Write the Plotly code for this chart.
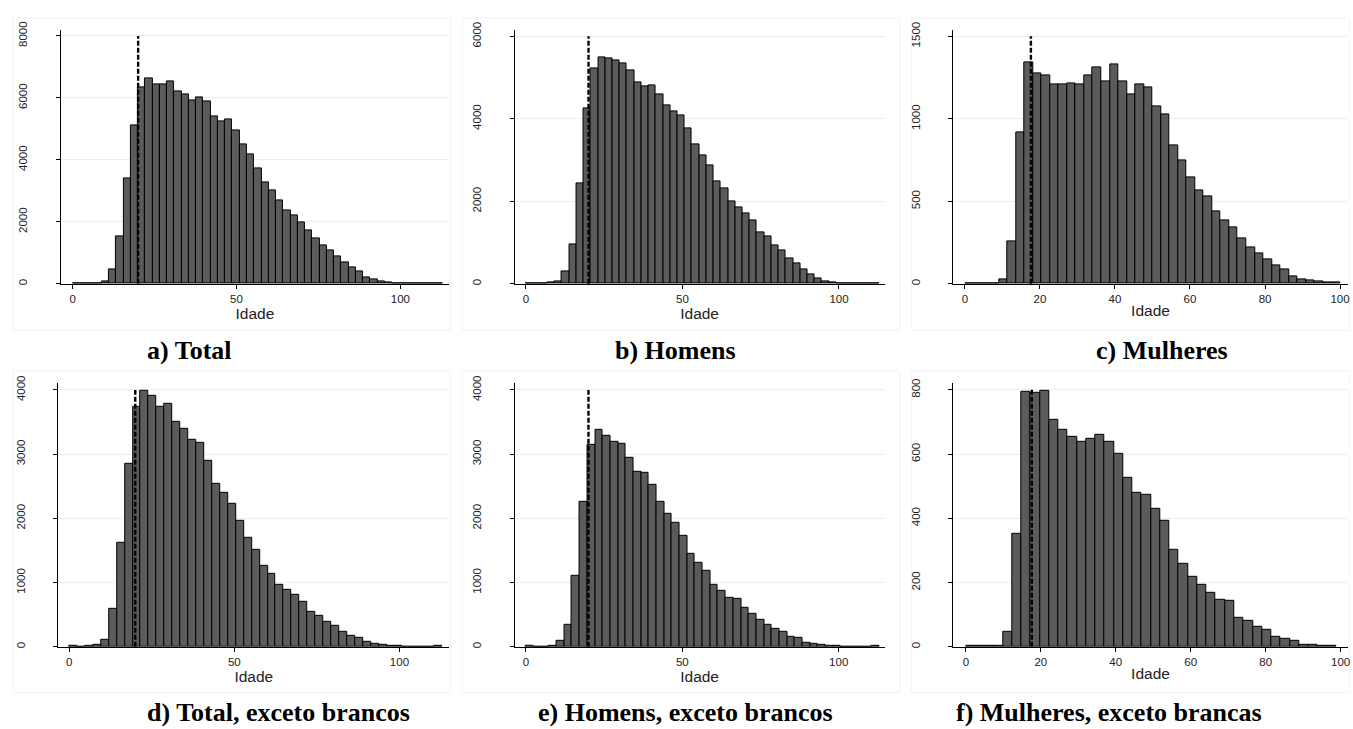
import plotly.graph_objects as go

# Age histograms (counts per bin), bins start at age 0
total_counts = [25, 15, 20, 30, 85, 456, 1528, 3395, 5125, 6345,
                6631, 6440, 6440, 6536, 6217, 6122, 5910, 6026, 5878, 5411,
                5241, 5294, 4944, 4509, 4170, 3735, 3289, 3003, 2684, 2355,
                2207, 1973, 1729, 1464, 1252, 1082, 881, 679, 520, 393,
                223, 159, 85, 53, 20, 15, 10, 8, 5, 0, 15]
homens_counts = [15, 0, 10, 25, 65, 295, 964, 2431, 4248, 5228,
                 5491, 5467, 5427, 5332, 5165, 4894, 4782, 4806, 4599, 4327,
                 4192, 4089, 3778, 3387, 3116, 2877, 2495, 2303, 2000, 1849,
                 1706, 1530, 1251, 1148, 940, 805, 606, 486, 359, 231,
                 143, 72, 32, 15, 10, 8, 5, 0, 12]
mulheres_counts = [5, 5, 5, 5, 28, 259, 920, 1343, 1275, 1265,
                   1209, 1209, 1215, 1209, 1263, 1313, 1227, 1329, 1227, 1149,
                   1209, 1193, 1078, 1024, 841, 747, 647, 566, 532, 438,
                   384, 341, 277, 223, 185, 147, 112, 86, 46, 26,
                   22, 14, 8, 6]
total_nb_counts = [10, 5, 10, 25, 102, 589, 1623, 2847, 3743, 3995,
                   3912, 3732, 3789, 3502, 3400, 3220, 3180, 2903, 2540, 2406,
                   2227, 1956, 1700, 1510, 1265, 1142, 973, 896, 809, 707,
                   538, 476, 389, 323, 241, 169, 133, 72, 51, 26,
                   15, 10, 8, 5, 3, 0, 10]
homens_nb_counts = [10, 5, 5, 15, 97, 338, 1106, 2258, 3154, 3379,
                    3292, 3195, 3169, 2939, 2724, 2714, 2524, 2253, 2079, 1925,
                    1725, 1449, 1316, 1178, 968, 876, 763, 748, 604, 512,
                    420, 338, 287, 230, 164, 133, 67, 41, 26, 15,
                    10, 8, 5, 3, 0, 10]
mulheres_nb_counts = [3, 2, 2, 3, 46, 351, 794, 792, 798, 707,
                      676, 653, 637, 649, 659, 639, 601, 527, 478, 474,
                      431, 392, 303, 259, 218, 193, 168, 145, 142, 90,
                      81, 62, 54, 32, 25, 19, 7, 6, 3, 2]

# Bin widths (years)
bin_widths = [113 / 51, 113 / 49, 100 / 44, 113 / 47, 113 / 46, 2.47]
# Reference age marked by the dashed line
cutoffs = [20, 20, 17.6, 20, 20, 17.6]

panel_titles = ["a) Total", "b) Homens", "c) Mulheres",
                "d) Total, exceto brancos", "e) Homens, exceto brancos",
                "f) Mulheres, exceto brancas"]
y_ticks = [[0, 2000, 4000, 6000, 8000], [0, 2000, 4000, 6000], [0, 500, 1000, 1500],
           [0, 1000, 2000, 3000, 4000], [0, 1000, 2000, 3000, 4000],
           [0, 200, 400, 600, 800]]
x_ticks = [[0, 50, 100], [0, 50, 100], [0, 20, 40, 60, 80, 100],
           [0, 50, 100], [0, 50, 100], [0, 20, 40, 60, 80, 100]]

series = [total_counts, homens_counts, mulheres_counts,
          total_nb_counts, homens_nb_counts, mulheres_nb_counts]

W, H = 1353, 729

# Plot-area boxes in pixels: left, top, right, bottom
boxes = [(61, 21.7, 449.5, 278.7), (515.3, 21.7, 886, 278.7), (954.7, 21.7, 1349.7, 278.7),
         (58.3, 379, 450, 646.7), (515.3, 379, 886, 646.7), (954.7, 379, 1349.7, 646.7)]
x_ranges = [[-3.56, 114.77], [-3.63, 114.6], [-3.09, 102.04],
            [-3.33, 115.1], [-3.64, 114.7], [-3.36, 101.9]]
y_ranges = [[0, 8178], [0, 6143], [0, 1536], [0, 4112], [0, 4112], [0, 822]]

# Frame around each graph region
frames = [(13, 9, 451, 326), (463, 9, 901, 326), (913, 9, 1352, 326),
          (13, 367, 451, 693), (463, 367, 901, 693), (913, 367, 1352, 693)]
title_pos = [(145, 346), (614, 346), (1096, 346), (145, 713), (537, 713), (955, 713)]

BAR_FILL = "#5b5b5b"
GRID = "#e8eff1"
TEXT = "#222222"

fig = go.Figure()
layout = dict(width=W, height=H, margin=dict(l=0, r=0, t=0, b=0),
              paper_bgcolor="white", plot_bgcolor="white", showlegend=False,
              bargap=0, shapes=[], annotations=[])

for i, counts in enumerate(series):
    n = i + 1
    xa = "x" if n == 1 else f"x{n}"
    ya = "y" if n == 1 else f"y{n}"
    w = bin_widths[i]
    centers = [w * (k + 0.5) for k in range(len(counts))]
    fig.add_trace(go.Bar(x=centers, y=counts, width=w, xaxis=xa, yaxis=ya,
                         marker=dict(color=BAR_FILL, line=dict(color="black", width=1)),
                         hoverinfo="x+y"))
    top = y_ticks[i][-1]
    fig.add_trace(go.Scatter(x=[cutoffs[i], cutoffs[i]], y=[0, top], mode="lines",
                             xaxis=xa, yaxis=ya,
                             line=dict(color="black", width=2.4, dash="5px,2px")))

    l, t, r, b = boxes[i]
    xkey = "xaxis" if n == 1 else f"xaxis{n}"
    ykey = "yaxis" if n == 1 else f"yaxis{n}"
    layout[xkey] = dict(domain=[l / W, r / W], range=x_ranges[i], anchor=ya,
                        tickvals=x_ticks[i], ticks="outside", ticklen=4, tickcolor="black",
                        showline=True, linecolor="black", linewidth=1,
                        showgrid=False, zeroline=False,
                        tickfont=dict(family="Liberation Sans", size=11.5, color=TEXT),
                        title=dict(text="Idade", standoff=1,
                                   font=dict(family="Liberation Sans", size=15.5, color=TEXT)))
    layout[ykey] = dict(domain=[1 - b / H, 1 - t / H], range=y_ranges[i], anchor=xa,
                        tickvals=y_ticks[i], ticks="outside", ticklen=4, tickcolor="black",
                        tickangle=-90, ticklabelstandoff=24,
                        showline=True, linecolor="black", linewidth=1,
                        showgrid=True, gridcolor=GRID, gridwidth=1, zeroline=False,
                        tickfont=dict(family="Liberation Sans", size=11.5, color=TEXT))

    fl, ft, fr, fb = frames[i]
    layout["shapes"].append(dict(type="rect", xref="paper", yref="paper",
                                 x0=fl / W, x1=fr / W, y0=1 - fb / H, y1=1 - ft / H,
                                 line=dict(color="#f1f3f4", width=1), layer="below"))
    tx, ty = title_pos[i]
    layout["annotations"].append(dict(text=panel_titles[i], xref="paper", yref="paper",
                                      x=tx / W, y=1 - ty / H, xanchor="left", yanchor="middle",
                                      showarrow=False,
                                      font=dict(family="Liberation Serif", size=26,
                                                color="black", weight="bold")))

fig.update_layout(**layout)
fig.write_html("out.html")
